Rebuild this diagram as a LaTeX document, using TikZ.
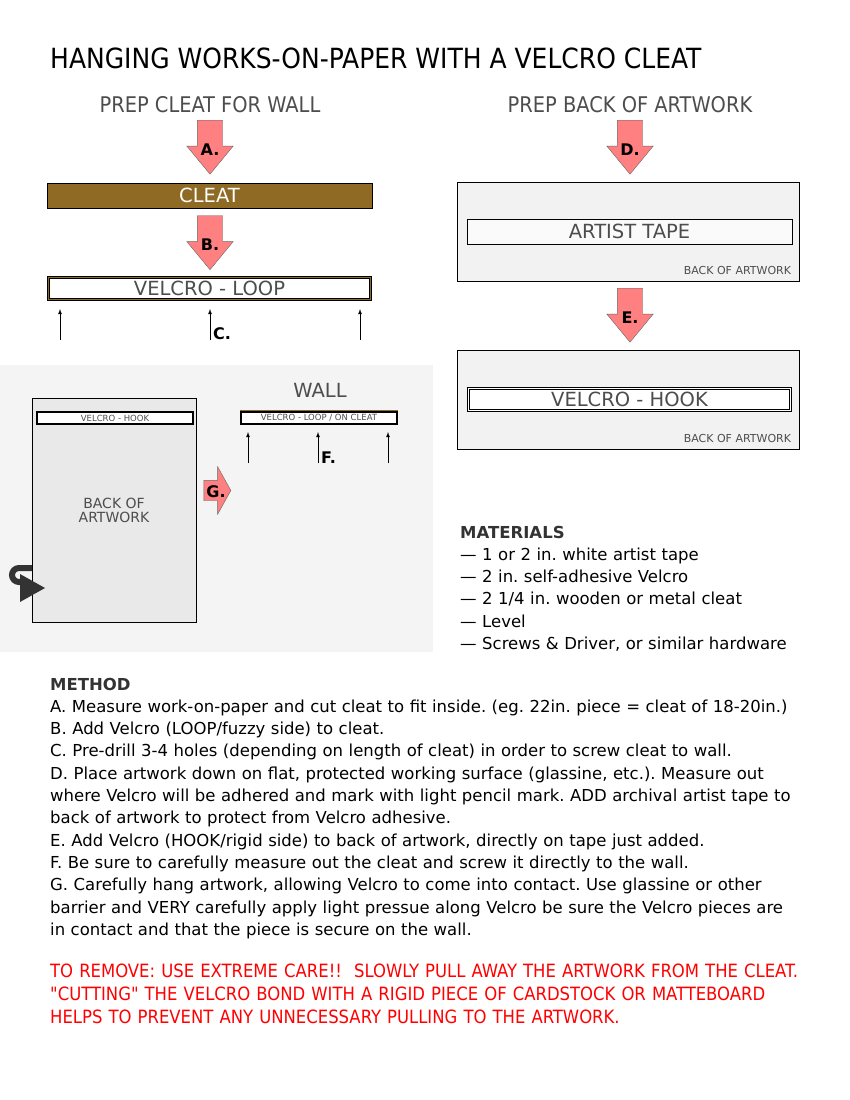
\documentclass[tikz,border=0pt]{standalone}
\usepackage{fontspec}
\setmainfont{DejaVu Sans}
\newfontfamily\condfont{DejaVu Sans Condensed}
\usetikzlibrary{shapes,arrows,positioning,calc}
\definecolor{cleatbrown}{RGB}{143,106,36}
\definecolor{inkgray}{RGB}{77,77,77}
\definecolor{panelgray}{RGB}{244,244,244}
\definecolor{boxgray}{RGB}{242,242,242}
\definecolor{artgray}{RGB}{233,233,233}
\definecolor{icongray}{RGB}{51,51,51}
\newcommand{\fsz}[2]{\fontsize{#1}{#2}\selectfont}

\begin{document}
\frenchspacing
\begin{tikzpicture}[x=1pt, y=-1pt, >=latex,
        heading/.style={text=inkgray, font=\condfont\fsz{21.6}{21.6}, inner sep=0},
        steparrow/.style={single arrow, draw=black!60, line width=0.4pt, fill=red!50, shape border rotate=270,
            minimum height=54pt, minimum width=46pt, single arrow head extend=10.5pt, single arrow tip angle=79,
            inner sep=12.5pt},
        steplabel/.style={font=\bfseries\fsz{16}{16}, inner sep=0},
        cleatbar/.style={rectangle, draw, fill=cleatbrown, text=white, minimum width=325pt, minimum height=25pt,
            font=\fsz{19.5}{19.5}, inner sep=0},
        loopstrip/.style={rectangle, draw=black, line width=0.7pt, double=cleatbrown, double distance=1.6pt,
            fill=white, text=inkgray, minimum width=322pt, minimum height=22pt, font=\fsz{19.5}{19.5}, inner sep=0},
        hookstrip/.style={loopstrip, double=white},
        backbox/.style={rectangle, draw, fill=boxgray, minimum width=342pt, minimum height=99pt},
        tapestrip/.style={rectangle, draw, fill=black!2, text=inkgray, minimum width=325pt, minimum height=25pt,
            font=\fsz{19.5}{19.5}, inner sep=0},
        cornertag/.style={text=inkgray, font=\fsz{11}{11}, inner sep=0, anchor=base east},
        tinystrip/.style={rectangle, draw, line width=1.4pt, fill=white, text=inkgray, minimum width=156pt,
            minimum height=12pt, font=\fsz{8.5}{8.5}, inner sep=0},
        screw/.style={->, line width=0.8pt},
        bodytext/.style={anchor=base west, inner sep=0, align=left, text width=800pt}]

    \useasboundingbox (0,0) rectangle (850,1100);

    % title
    \node [anchor=base west, inner sep=0, font=\condfont\fsz{27.8}{27.8}] (title) at (50,68)
        {HANGING WORKS-ON-PAPER WITH A VELCRO CLEAT};

    % left column: cleat
    \node [heading] (prepcleat) at (210,105) {PREP CLEAT FOR WALL};
    \node [steparrow] (arrA) at (210,139.5) {};
    \node [steplabel] at (210,150) {A.};
    \node [cleatbar] (cleat) at (209.5,195.5) {CLEAT};
    \node [steparrow] (arrB) at (210,235) {};
    \node [steplabel] at (210,245) {B.};
    \node [loopstrip] (loop) at (209.5,288.5) {VELCRO - LOOP};

    \coordinate (c1) at (60,340);
    \coordinate (c2) at (210,340);
    \coordinate (c3) at (360,340);
    \draw [screw] (c1) -- ++(0,-31);
    \draw [screw] (c2) -- ++(0,-31);
    \draw [screw] (c3) -- ++(0,-31);
    \node [steplabel, anchor=base west] at (213,339) {C.};

    % right column: back of artwork
    \node [heading] (prepback) at (630,105) {PREP BACK OF ARTWORK};
    \node [steparrow] (arrD) at (630,139.5) {};
    \node [steplabel] at (630,150) {D.};
    \node [backbox] (backA) at (628,231.5) {};
    \node [tapestrip] (tape) at (629.5,231.5) {ARTIST TAPE};
    \node [cornertag] at ($(backA.south east)+(-8,-7)$) {BACK OF ARTWORK};
    \node [steparrow] (arrE) at (630,307.5) {};
    \node [steplabel] at (630,318) {E.};
    \node [backbox] (backB) at (628,400) {};
    \node [hookstrip] (hook) at (629.5,399.5) {VELCRO - HOOK};
    \node [cornertag] at ($(backB.south east)+(-8,-7)$) {BACK OF ARTWORK};

    % hanging on the wall
    \fill [panelgray] (0,365) rectangle (433,652);
    \node [text=inkgray, font=\fsz{19.5}{19.5}, inner sep=0] (wall) at (320,390) {WALL};
    \node [rectangle, draw, line width=0.8pt, fill=artgray, text=inkgray, minimum width=164pt, minimum height=224pt,
        align=center, font=\fsz{14}{14}] (art) at (114,510) {BACK OF\\ARTWORK};
    \node [tinystrip] (arthook) at (115,418) {VELCRO - HOOK};
    \node [tinystrip] (wallloop) at (319,418) {VELCRO - LOOP / ON CLEAT};
    \draw [cleatbrown, line width=0.8pt] ($(wallloop.north west)+(0,-0.6)$) -- ($(wallloop.north east)+(0,-0.6)$);

    \coordinate (f1) at (248,463);
    \coordinate (f2) at (318,463);
    \coordinate (f3) at (388,463);
    \draw [screw] (f1) -- ++(0,-31);
    \draw [screw] (f2) -- ++(0,-31);
    \draw [screw] (f3) -- ++(0,-31);
    \node [steplabel, anchor=base west] at (321,463) {F.};

    \node [steparrow, shape border rotate=0, minimum height=27pt, minimum width=47pt, inner sep=10pt,
        single arrow head extend=13.5pt, single arrow tip angle=122] (arrG) at (214.5,490.5) {};
    \node [steplabel] at (216,492) {G.};

    % turn-over icon
    \draw [icongray, line width=6pt] (32,568) -- (19,568) arc[start angle=270, end angle=90, radius=7] -- (26,582);
    \fill [icongray] (20,574) -- (45,588) -- (20,602) -- cycle;

    % materials
    \node [bodytext, text width=380pt, font=\fsz{16.5}{22.3}] (materials) at (460,538)
        {{\bfseries\color{icongray}MATERIALS}\\
        — 1 or 2 in. white artist tape\\
        — 2 in. self-adhesive Velcro\\
        — 2 1/4 in. wooden or metal cleat\\
        — Level\\
        — Screws \& Driver, or similar hardware};

    % method
    \node [bodytext, font=\fsz{16.5}{22.3}] (method) at (50,690)
        {{\bfseries\color{icongray}METHOD}\\
        A. Measure work-on-paper and cut cleat to fit inside. (eg. 22in. piece = cleat of 18-20in.)\\
        B. Add Velcro (LOOP/fuzzy side) to cleat.\\
        C. Pre-drill 3-4 holes (depending on length of cleat) in order to screw cleat to wall.\\
        D. Place artwork down on flat, protected working surface (glassine, etc.). Measure out\\
        where Velcro will be adhered and mark with light pencil mark. ADD archival artist tape to\\
        back of artwork to protect from Velcro adhesive.\\
        E. Add Velcro (HOOK/rigid side) to back of artwork, directly on tape just added.\\
        F. Be sure to carefully measure out the cleat and screw it directly to the wall.\\
        G. Carefully hang artwork, allowing Velcro to come into contact. Use glassine or other\\
        barrier and VERY carefully apply light pressue along Velcro be sure the Velcro pieces are\\
        in contact and that the piece is secure on the wall.};

    % warning
    \node [bodytext, text=red, font=\condfont\fsz{18.3}{23}] (warning) at (50,977)
        {TO REMOVE: USE EXTREME CARE!!\ \ SLOWLY PULL AWAY THE ARTWORK FROM THE CLEAT.\\
        "CUTTING" THE VELCRO BOND WITH A RIGID PIECE OF CARDSTOCK OR MATTEBOARD\\
        HELPS TO PREVENT ANY UNNECESSARY PULLING TO THE ARTWORK.};
\end{tikzpicture}
\end{document}
